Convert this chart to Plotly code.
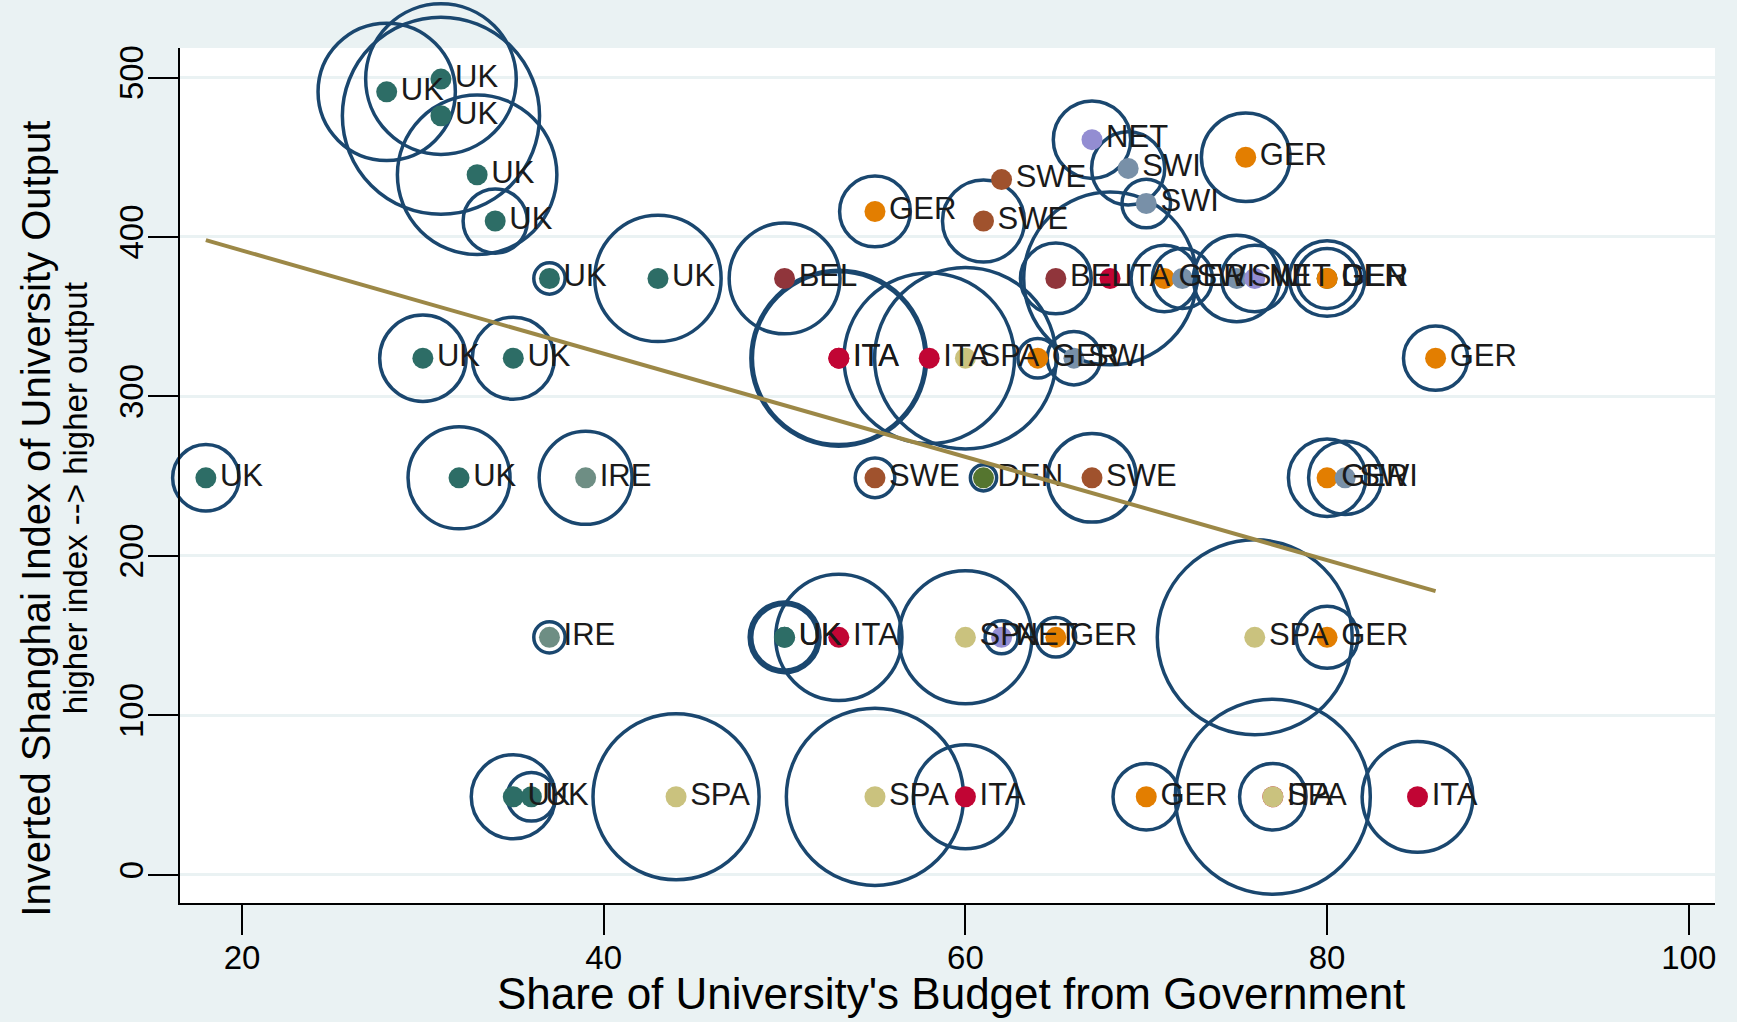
import plotly.graph_objects as go

# ---------------- data ----------------
country = ["UK", "UK", "UK", "UK", "UK",
           "UK", "UK", "BEL", "BEL", "ITA", "GER", "SWI", "SWI", "NET", "DEN", "GER",
           "UK", "UK", "ITA", "ITA", "ITA", "SPA", "GER", "SWI", "GER",
           "NET", "SWI", "SWI", "SWE", "SWE", "GER", "GER",
           "UK", "UK", "IRE", "SWE", "DEN", "SWE", "GER", "SWI",
           "IRE", "UK", "UK", "ITA", "SPA", "NET", "GER", "SPA", "GER",
           "UK", "UK", "SPA", "SPA", "ITA", "GER", "ITA", "SPA", "ITA"]
gov_share = [28, 31, 31, 33, 34,
             37, 43, 50, 65, 68, 71, 72, 75, 76, 80, 80,
             30, 35, 53, 53, 58, 60, 64, 66, 86,
             67, 69, 70, 62, 61, 55, 75.5,
             18, 32, 39, 55, 61, 67, 80, 81,
             37, 50, 50, 53, 60, 62, 65, 76, 80,
             35, 36, 44, 55, 60, 70, 77, 77, 85]
shanghai = [491, 499, 476, 439, 410,
            374, 374, 374, 374, 374, 374, 374, 374, 374, 374, 374,
            324, 324, 324, 324, 324, 324, 324, 324, 324,
            461, 443, 421, 436, 410, 416, 450,
            249, 249, 249, 249, 249, 249, 249, 249,
            149, 149, 149, 149, 149, 149, 149, 149, 149,
            49, 49, 49, 49, 49, 49, 49, 49, 49]
weight = [384, 462, 792, 518, 84,
          20, 325, 250, 102, 608, 90, 73, 152, 90, 73, 116,
          152, 137, 608, 630, 593, 672, 32, 58, 84,
          122, 109, 48, 3, 137, 102, 160,
          90, 212, 176, 32, 14, 160, 122, 109,
          20, 102, 88, 325, 360, 22, 32, 774, 78,
          144, 48, 562, 640, 221, 90, 774, 90, 250]

fit_x = [18, 86]
fit_y = [398, 178]

x_ticks = [20, 40, 60, 80, 100]
y_ticks = [0, 100, 200, 300, 400, 500]

# ---------------- styles ----------------
palette = {
    "UK": "#2d6d66", "BEL": "#90353b", "GER": "#e37e00", "SWE": "#a0522d",
    "DEN": "#55752f", "IRE": "#6e8e84", "ITA": "#c10534", "NET": "#938dd2",
    "SPA": "#cac27e", "SWI": "#7890a8",
}
NAVY = "#1a476f"
BG = "#eaf2f3"
FONT = "Liberation Sans, Arial, sans-serif"

fig = go.Figure()

# hollow weighted bubbles
fig.add_trace(go.Scatter(
    x=gov_share, y=shanghai, mode="markers",
    marker=dict(size=weight, sizemode="area", sizeref=0.04074, sizemin=0, opacity=1,
                color="rgba(0,0,0,0)", line=dict(color=NAVY, width=3.5)),
    cliponaxis=False, hoverinfo="skip", showlegend=False,
))

# coloured country dots with labels
fig.add_trace(go.Scatter(
    x=gov_share, y=shanghai, mode="markers+text",
    text=country, textposition="middle right",
    textfont=dict(family=FONT, size=31, color="#1a1a1a"),
    marker=dict(size=21, opacity=1, color=[palette[c] for c in country], line=dict(width=0)),
    cliponaxis=False, showlegend=False,
))

# fitted line
fig.add_trace(go.Scatter(
    x=fit_x, y=fit_y, mode="lines",
    line=dict(color="#9c8847", width=4), showlegend=False,
))

fig.update_layout(
    width=1737, height=1022,
    paper_bgcolor=BG, plot_bgcolor="white",
    margin=dict(l=180, r=22, t=48, b=119),
    font=dict(family=FONT, color="black"),
    hovermode=False,
    xaxis=dict(range=[16.57, 101.45], tickvals=x_ticks, showgrid=False, zeroline=False,
               showline=True, linecolor="black", linewidth=2,
               ticks="outside", ticklen=30, tickwidth=2, tickcolor="black",
               ticklabelstandoff=-6,
               tickfont=dict(size=33, family=FONT)),
    yaxis=dict(range=[-17.6, 518.5], tickvals=y_ticks, showgrid=True, gridcolor=BG,
               gridwidth=3, zeroline=False, tickangle=-90,
               showline=True, linecolor="black", linewidth=2,
               ticks="outside", ticklen=30, tickwidth=2, tickcolor="black",
               ticklabelstandoff=-8,
               tickfont=dict(size=33, family=FONT)),
    annotations=[
        dict(text="Share of University's Budget from Government", xref="paper", yref="paper",
             x=0.5025, y=-0.1064, xanchor="center", yanchor="middle", showarrow=False,
             font=dict(size=44, family=FONT, color="black")),
        dict(text="Inverted Shanghai Index of University Output", xref="paper", yref="paper",
             x=-0.0935, y=0.450, xanchor="center", yanchor="middle", textangle=-90,
             showarrow=False, font=dict(size=40, family=FONT, color="black")),
        dict(text="higher index --> higher output", xref="paper", yref="paper",
             x=-0.068, y=0.473, xanchor="center", yanchor="middle", textangle=-90,
             showarrow=False, font=dict(size=33, family=FONT, color="black")),
    ],
)

fig.write_html(
    "out.html",
    config={"displayModeBar": False},
    post_script="document.body.style.margin='0';document.body.style.background='#eaf2f3';",
)
